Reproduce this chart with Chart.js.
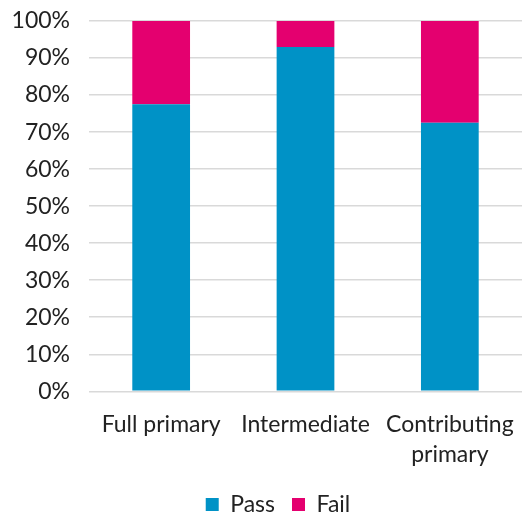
<!DOCTYPE html>
<html>
<head>
<meta charset="utf-8">
<script src="https://cdn.jsdelivr.net/npm/chart.js@4"></script>
<style>
  html,body{margin:0;padding:0;background:#fff}
  #wrap{width:522px;height:513px;position:relative}
</style>
</head>
<body>
<div id="wrap"><canvas id="chart"></canvas></div>
<script>
// data
const categories = ['Full primary', 'Intermediate', ['Contributing', 'primary']];
const passPct = [77.5, 93, 72.5];
const failPct = [22.5, 7, 27.5];

const FONT = "Lato, 'Open Sans', sans-serif";

// the reference legend sits a little right of the canvas centre
const legendShift = {
  id:'legendShift',
  afterLayout(chart){
    const lg = chart.legend;
    if (!lg) return;
    lg.left += 15; lg.right += 15;
    if (lg.legendHitBoxes) lg.legendHitBoxes.forEach(h => { h.left += 15; });
  }
};

const ctx = document.getElementById('chart').getContext('2d');
new Chart(ctx, {
  type:'bar',
  data:{
    labels: categories,
    datasets:[
      { label:'Pass', data: passPct, backgroundColor:'#0092C6', categoryPercentage:1, barPercentage:0.4 },
      { label:'Fail', data: failPct, backgroundColor:'#E4006F', categoryPercentage:1, barPercentage:0.4 }
    ]
  },
  plugins:[legendShift],
  options:{
    responsive:true, maintainAspectRatio:false, animation:false,
    layout:{ padding:{ left:0, right:-4, top:21, bottom:-13 } },
    plugins:{
      tooltip:{enabled:false},
      legend:{
        position:'bottom',
        labels:{ boxWidth:13, boxHeight:13, color:'#222', font:{family:FONT,size:23}, padding:17 }
      }
    },
    scales:{
      x:{
        stacked:true,
        grid:{display:false}, border:{color:'#d9d9d9'},
        ticks:{ color:'#222', font:{family:FONT,size:23,lineHeight:1.32}, maxRotation:0, padding:10 },
        afterFit: s => { s.height -= 4; s.paddingLeft = 0; s.paddingRight = 0; }
      },
      y:{
        stacked:true, min:0, max:100,
        border:{display:false},
        grid:{ color:'#d9d9d9', lineWidth:1.5, drawTicks:false },
        ticks:{ stepSize:10, color:'#222', font:{family:FONT,size:23}, padding:19, callback:v=>v+'%' },
        afterFit: s => { s.width = 89; s.paddingTop = 0; s.paddingBottom = 0; }
      }
    }
  }
});
</script>
</body>
</html>
